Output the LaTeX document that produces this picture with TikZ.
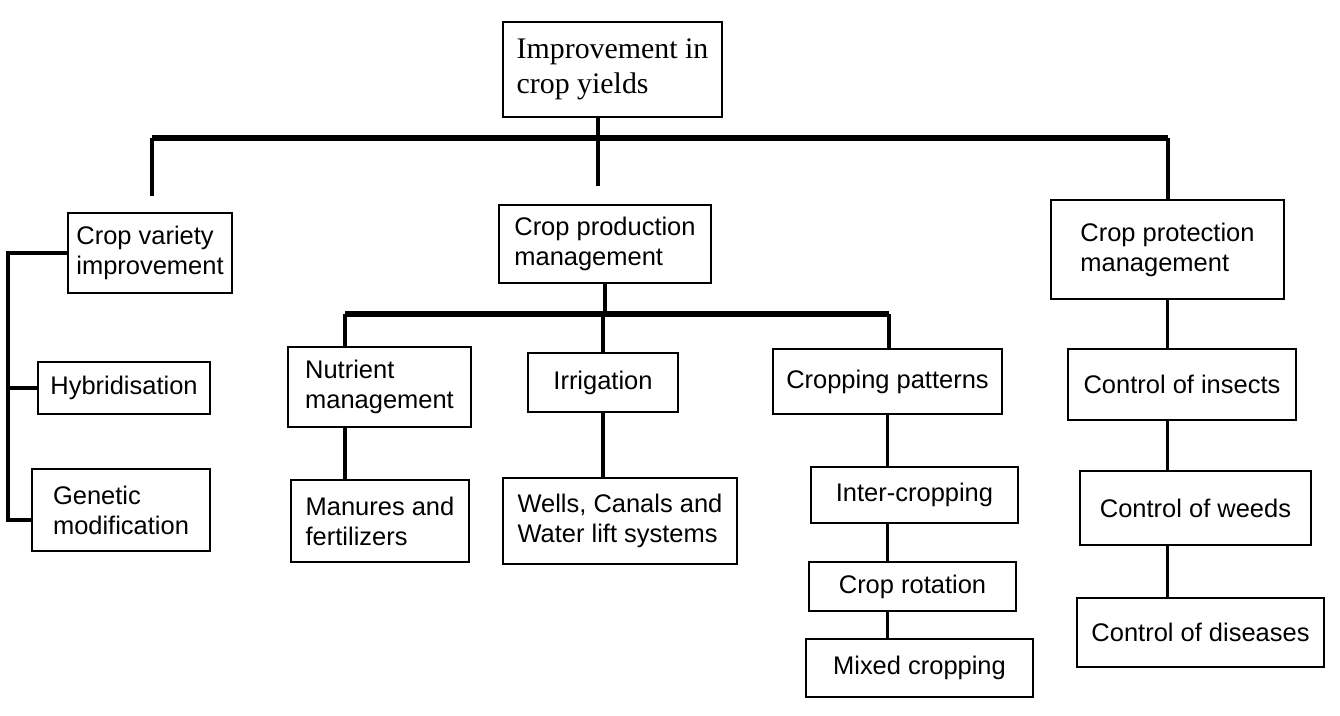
\documentclass[tikz,border=0pt]{standalone}
\usepackage{fontspec}
\setmainfont{Liberation Sans}
\newfontfamily\topfont{Liberation Serif}
\begin{document}
\begin{tikzpicture}[x=0.02cm,y=-0.02cm,
		box/.style={draw,line width=1.2pt,inner sep=3pt,align=left,font=\fontsize{14.5}{17}\selectfont},
		link/.style={line width=2.2pt},
		bus/.style={line width=3.2pt}]
		\useasboundingbox(0,0)rectangle(1340,716);
		\node[box,minimum width=4.38cm,minimum height=1.9cm,font=\topfont\fontsize{17}{20}\selectfont](top)at(612.5,69.5){Improvement in\\crop yields};
		\node[box,minimum width=3.28cm,minimum height=1.6cm](cvi)at(150,253){Crop variety\\improvement};
		\node[box,minimum width=4.24cm,minimum height=1.56cm](cpm)at(605,244){Crop production\\management};
		\node[box,minimum width=4.66cm,minimum height=1.98cm](cpr)at(1167.5,249.5){Crop protection\\management};
		\node[box,minimum width=3.44cm,minimum height=1.04cm](hyb)at(124,388){Hybridisation};
		\node[box,minimum width=3.56cm,minimum height=1.64cm](gen)at(121,510){Genetic\\modification};
		\node[box,minimum width=3.66cm,minimum height=1.6cm](nut)at(379.5,387){Nutrient\\management};
		\node[box,minimum width=3cm,minimum height=1.18cm](irr)at(603,382.5){Irrigation};
		\node[box,minimum width=4.58cm,minimum height=1.3cm](cpat)at(887.5,381.5){Cropping patterns};
		\node[box,minimum width=3.56cm,minimum height=1.64cm](man)at(380,521){Manures and\\fertilizers};
		\node[box,minimum width=4.68cm,minimum height=1.72cm](wel)at(620,521){Wells, Canals and\\Water lift systems};
		\node[box,minimum width=4.14cm,minimum height=1.12cm](inter)at(914.5,495){Inter-cropping};
		\node[box,minimum width=4.14cm,minimum height=0.98cm](rot)at(912.5,586.5){Crop rotation};
		\node[box,minimum width=4.54cm,minimum height=1.16cm](mix)at(919.5,668){Mixed cropping};
		\node[box,minimum width=4.56cm,minimum height=1.42cm](ins)at(1182,384.5){Control of insects};
		\node[box,minimum width=4.62cm,minimum height=1.48cm](wee)at(1195.5,508){Control of weeds};
		\node[box,minimum width=4.94cm,minimum height=1.38cm](dis)at(1200.5,632.5){Control of diseases};
		\coordinate(spL)at(152,138);
		\coordinate(spM)at(598,138);
		\coordinate(spR)at(1168,138);
		\coordinate(tkB)at(8,520);
		\coordinate(pbL)at(345,314);
		\coordinate(pbR)at(889,314);
		\draw[bus](spL)--(spR);
		\draw[link,shorten >=0.36cm](spM|-top.south)--(spM|-cpm.north);
		\draw[link,shorten >=0.32cm](spL)--(spL|-cvi.north);
		\draw[link](spR)--(spR|-cpr.north);
		\draw[link](cvi.west)-|(tkB)--(tkB-|gen.west);
		\draw[link](hyb.west)--(hyb.west-|tkB);
		\draw[link](cpm.south)--(cpm.south|-pbL);
		\draw[bus](pbL)--(pbR);
		\draw[link](pbL)--(pbL|-nut.north);
		\draw[link](pbL|-nut.south)--(pbL|-man.north);
		\draw[link](irr.north|-pbL)--(irr.north);
		\draw[link](irr.south)--(irr.south|-wel.north);
		\draw[link](pbR)--(pbR|-cpat.north);
		\draw[link](cpat.south)--(inter.north-|cpat.south);
		\draw[link](inter.south-|cpat.south)--(rot.north-|cpat.south);
		\draw[link](rot.south-|cpat.south)--(mix.north-|cpat.south);
		\draw[link](cpr.south)--(ins.north-|cpr.south);
		\draw[link](ins.south-|cpr.south)--(wee.north-|cpr.south);
		\draw[link](wee.south-|cpr.south)--(dis.north-|cpr.south);
	\end{tikzpicture}
\end{document}
